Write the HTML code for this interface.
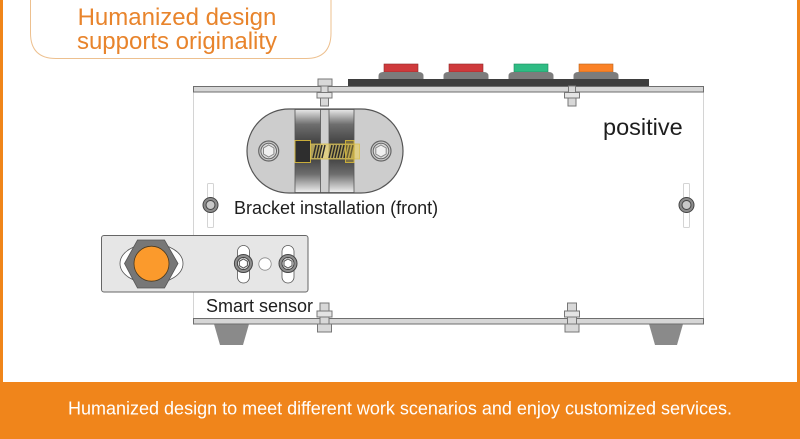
<!DOCTYPE html>
<html><head><meta charset="utf-8"><style>
html,body{margin:0;padding:0;background:#fff}
svg{display:block}
text{font-family:"Liberation Sans",sans-serif}
</style></head><body>
<svg width="800" height="439" viewBox="0 0 800 439" xmlns="http://www.w3.org/2000/svg">
<defs>
<linearGradient id="g" x1="0" y1="0" x2="0" y2="1">
<stop offset="0" stop-color="#e8e8e8"/><stop offset=".18" stop-color="#6e6e6e"/><stop offset=".5" stop-color="#303030"/><stop offset=".78" stop-color="#6e6e6e"/><stop offset="1" stop-color="#f0f0f0"/>
</linearGradient>
<g id="boltlow">
<rect x="-3.500" y="0" width="7" height="6.500" fill="#d8d8d8" stroke="#777"/>
<rect x="-7.500" y="6.500" width="15" height="5.500" fill="#e4e4e4" stroke="#777"/>
<rect x="-4" y="12" width="8" height="8" fill="#d8d8d8" stroke="#777"/>
</g>
<g id="btnbase"><path d="M0 7V4Q0 0 5 0H40Q45 0 45 4V7Z" fill="#7c7c7c"/></g>
<g id="washer"><circle r="7.500" fill="#8c8c8c" stroke="#444"/><circle r="4.500" fill="#c8c8c8" stroke="#444"/></g>
<g id="hexbolt"><circle r="10" fill="#ccc" stroke="#666" stroke-width="1.200"/><circle r="7.800" fill="#ddd" stroke="#666"/><path d="M0-6L5.200-3V3L0 6L-5.200 3V-3Z" fill="#f0f0f0" stroke="#888"/></g>
<g id="sw"><circle r="9" fill="#8f8f8f" stroke="#444"/><circle r="6" fill="#e8e8e8" stroke="#444"/><path d="M0-4.500L4-2.200V2.200L0 4.500L-4 2.200V-2.200Z" fill="#fff" stroke="#555"/></g>
</defs>
<rect width="800" height="439" fill="#fff"/>
<rect x="0" y="0" width="3" height="382" fill="#f08519"/>
<rect x="797" y="0" width="3" height="382" fill="#f08519"/>
<rect x="0" y="382" width="800" height="57" fill="#f0851b"/>

<path d="M30.500 0V33Q30.500 58.500 56 58.500H306Q331 58.500 331 33V0" fill="#fff" stroke="#edc08f" stroke-width="1"/>
<text x="177" y="25" text-anchor="middle" font-size="24" fill="#e8842c">Humanized design</text>
<text x="177" y="49" text-anchor="middle" font-size="24" fill="#e8842c">supports originality</text>

<path d="M193.500 92V318M703.500 92V318" stroke="#d4d4d4" stroke-width="1" fill="none"/>

<rect x="384" y="64" width="34" height="8" fill="#cf3a3c" stroke="#8e2a2a" stroke-width=".6"/>
<rect x="449" y="64" width="34" height="8" fill="#cf3a3c" stroke="#8e2a2a" stroke-width=".6"/>
<rect x="514" y="64" width="34" height="8" fill="#2fbc84" stroke="#1d8a5e" stroke-width=".6"/>
<rect x="579" y="64" width="34" height="8" fill="#fb8227" stroke="#b8641f" stroke-width=".6"/>
<use href="#btnbase" x="378.500" y="72"/>
<use href="#btnbase" x="443.500" y="72"/>
<use href="#btnbase" x="508.500" y="72"/>
<use href="#btnbase" x="573.500" y="72"/>
<rect x="318" y="79" width="14" height="7" fill="#d8d8d8" stroke="#777"/>
<rect x="348" y="79" width="301" height="7" fill="#3e3e3e"/>
<rect x="193.500" y="86.500" width="510" height="5.500" fill="#d6d6d6" stroke="#6e6e6e" stroke-width="1"/>
<use href="#boltlow" x="324.500" y="86"/>
<use href="#boltlow" x="572" y="86"/>

<rect x="247" y="109" width="156" height="84" rx="42" fill="#cdcdcd" stroke="#555" stroke-width="1.200"/>
<rect x="295" y="109.500" width="59" height="83" fill="url(#g)" stroke="#555" stroke-width=".8"/>
<rect x="320.500" y="109.500" width="8.500" height="83" fill="#cfcfcf" stroke="#555" stroke-width=".8"/>
<use href="#hexbolt" x="268.700" y="151"/>
<use href="#hexbolt" x="381" y="151"/>
<rect x="295" y="140.500" width="15.500" height="22" fill="#2e2e2e" stroke="#c9ad3a" stroke-width="1"/>
<rect x="310.500" y="144" width="49" height="15" fill="#e6cf6a" fill-opacity=".7" stroke="#d9c050" stroke-width=".8"/>
<path d="M313 158l3-13M316 158l3-13M319 158l3-13M322 158l3-13M329 158l3-13M332 158l3-13M335 158l3-13M338 158l3-13M341 158l3-13M344 158l3-13M347 158l3-13M350 158l3-13" stroke="#2a2a2a" stroke-width="1.500" fill="none"/>
<rect x="345.500" y="140.500" width="8.500" height="22" fill="#d8b840" fill-opacity=".35" stroke="#c9ad3a" stroke-width="1"/>

<text x="603" y="135" font-size="23.500" fill="#1e1e1e">positive</text>
<text x="234" y="214" font-size="18" fill="#1e1e1e">Bracket installation (front)</text>

<rect x="207.500" y="183.500" width="6" height="44" rx="1" fill="#fff" stroke="#d4d4d4"/>
<rect x="683.500" y="183.500" width="6" height="44" rx="1" fill="#fff" stroke="#d4d4d4"/>
<use href="#washer" x="210.500" y="205"/>
<use href="#washer" x="686.500" y="205"/>

<rect x="101.500" y="235.500" width="206.500" height="56.500" rx="2.500" fill="#e6e6e6" stroke="#666" stroke-width="1"/>
<ellipse cx="151.500" cy="263.500" rx="31.500" ry="20" fill="#fff" stroke="#555" stroke-width=".8"/>
<path d="M137.500 240H164.500L178 263.500L164.500 288H137.500L124.500 263.500Z" fill="#777" stroke="#555" stroke-width=".8"/>
<circle cx="151.500" cy="263.700" r="17.500" fill="#fb9a2c" stroke="#4a3a20" stroke-width=".8"/>
<rect x="237.500" y="245.500" width="12" height="37.500" rx="6" fill="#fff" stroke="#555" stroke-width=".8"/>
<rect x="282" y="245.500" width="12" height="37.500" rx="6" fill="#fff" stroke="#555" stroke-width=".8"/>
<circle cx="265" cy="264" r="6.200" fill="#fff" stroke="#888" stroke-width=".8"/>
<use href="#sw" x="243.400" y="263.500"/>
<use href="#sw" x="288" y="263.500"/>
<text x="206" y="312" font-size="18" fill="#1e1e1e">Smart sensor</text>

<path d="M214 324H249L243 345H220Z" fill="#8a8a8a"/>
<path d="M649 324H683L677 345H655Z" fill="#8a8a8a"/>
<rect x="193.500" y="318.500" width="510" height="5.500" fill="#d6d6d6" stroke="#6e6e6e" stroke-width="1"/>
<g transform="translate(324.500,311)"><rect x="-4.500" y="-8" width="9" height="8" fill="#d8d8d8" stroke="#777"/><rect x="-7.500" y="0" width="15" height="6" fill="#e4e4e4" stroke="#777"/><rect x="-4.500" y="6" width="9" height="7" fill="#d8d8d8" stroke="#777"/><rect x="-7" y="13" width="14" height="8" fill="#d8d8d8" stroke="#777"/></g>
<g transform="translate(572,311)"><rect x="-4.500" y="-8" width="9" height="8" fill="#d8d8d8" stroke="#777"/><rect x="-7.500" y="0" width="15" height="6" fill="#e4e4e4" stroke="#777"/><rect x="-4.500" y="6" width="9" height="7" fill="#d8d8d8" stroke="#777"/><rect x="-7" y="13" width="14" height="8" fill="#d8d8d8" stroke="#777"/></g>

<text x="400" y="414.500" text-anchor="middle" font-size="18" fill="#fff">Humanized design to meet different work scenarios and enjoy customized services.</text>
</svg>
</body></html>
